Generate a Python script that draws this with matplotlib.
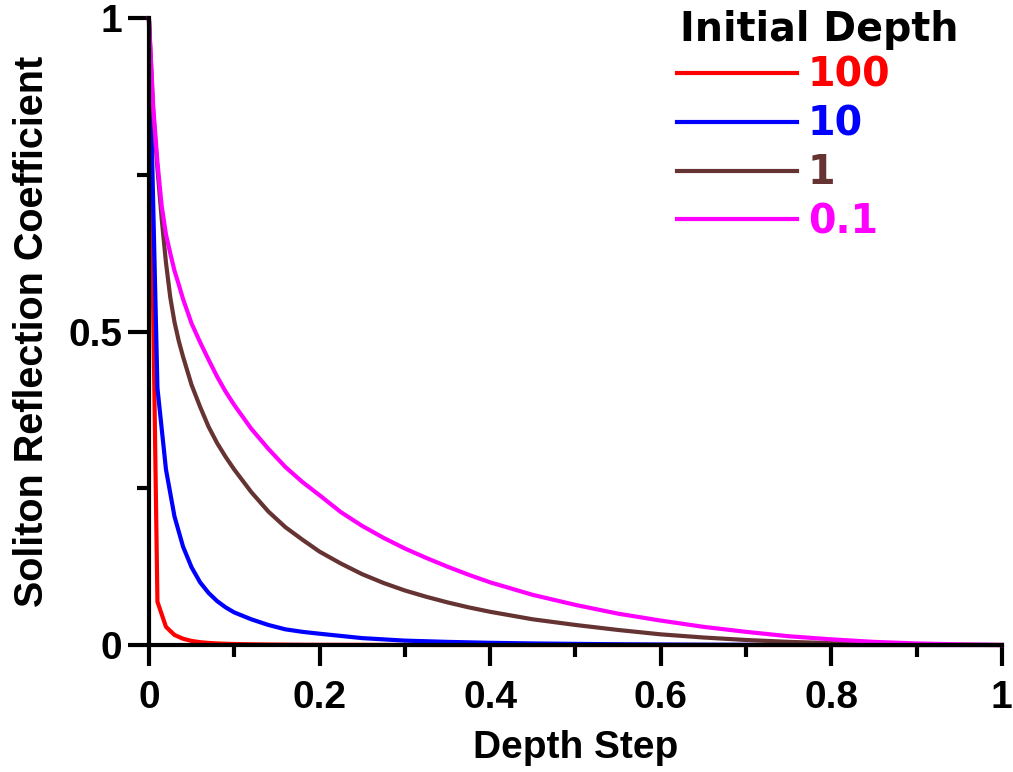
import matplotlib
matplotlib.use("Agg")
import matplotlib.pyplot as plt
from matplotlib.ticker import MultipleLocator, FixedLocator

plt.rcParams['font.family'] = ['Liberation Sans', 'DejaVu Sans']
plt.rcParams['font.weight'] = 'bold'

# Depth step grid for the deep-water runs (coarse sampling)
step_coarse = [0, 0.01, 0.02, 0.03, 0.04, 0.05, 0.06, 0.07, 0.08, 0.09, 0.1,
               0.12, 0.14, 0.16, 0.18, 0.2, 0.25, 0.3, 0.35, 0.4, 0.45,
               0.5, 0.55, 0.6, 0.65, 0.7, 0.75, 0.8, 0.85, 0.9, 0.95, 1.0]
# Depth step grid for the shallow-water runs (finer near zero)
step_fine = [0, 0.005, 0.01, 0.015, 0.02, 0.025, 0.03, 0.035, 0.04, 0.05,
             0.06, 0.07, 0.08, 0.09, 0.1, 0.12, 0.14, 0.16, 0.18, 0.2,
             0.225, 0.25, 0.275, 0.3, 0.325, 0.35, 0.375, 0.4, 0.45, 0.5,
             0.55, 0.6, 0.65, 0.7, 0.75, 0.8, 0.85, 0.9, 0.95, 1.0]

# Soliton reflection coefficient for each initial depth
refl_100 = [1.0, 0.069, 0.029, 0.016, 0.010, 0.0065, 0.0045, 0.0033, 0.0025, 0.002, 0.0016,
            0.0011, 0.0008, 0.0006, 0.0004, 0.0003, 0.0002, 0.0001, 0.0, 0.0, 0.0,
            0.0, 0.0, 0.0, 0.0, 0.0, 0.0, 0.0, 0.0, 0.0, 0.0, 0.0]
refl_10 = [1.0, 0.41, 0.28, 0.205, 0.157, 0.124, 0.10, 0.083, 0.07, 0.06, 0.052,
           0.041, 0.032, 0.025, 0.021, 0.018, 0.011, 0.007, 0.005, 0.0035, 0.0025,
           0.0018, 0.0012, 0.0008, 0.0005, 0.0003, 0.0002, 0.0001, 0.0, 0.0, 0.0, 0.0]
refl_1 = [1.0, 0.85, 0.76, 0.68, 0.61, 0.555, 0.515, 0.485, 0.46, 0.415,
          0.38, 0.348, 0.322, 0.30, 0.28, 0.244, 0.213, 0.188, 0.168, 0.149,
          0.130, 0.113, 0.099, 0.087, 0.077, 0.068, 0.060, 0.053, 0.041, 0.032,
          0.024, 0.017, 0.012, 0.008, 0.005, 0.003, 0.0015, 0.0008, 0.0003, 0.0]
refl_01 = [1.0, 0.86, 0.77, 0.70, 0.655, 0.625, 0.597, 0.575, 0.552, 0.513,
           0.483, 0.455, 0.428, 0.404, 0.383, 0.345, 0.313, 0.284, 0.260, 0.239,
           0.212, 0.190, 0.171, 0.154, 0.139, 0.125, 0.112, 0.100, 0.080, 0.064,
           0.050, 0.039, 0.029, 0.021, 0.014, 0.009, 0.005, 0.0025, 0.001, 0.0]

series_labels = ['100', '10', '1', '0.1']
series_colors = ['#FF0000', '#0000FF', '#663333', '#FF00FF']
series_x = [step_coarse, step_coarse, step_fine, step_fine]
series_values = [refl_100, refl_10, refl_1, refl_01]
legend_title = 'Initial Depth'

x_ticks = [0, 0.2, 0.4, 0.6, 0.8, 1.0]
x_tick_labels = ['0', '0.2', '0.4', '0.6', '0.8', '1']
y_ticks = [0, 0.5, 1.0]
y_tick_labels = ['0', '0.5', '1']

fig = plt.figure(figsize=(10.13, 7.72), dpi=100)
ax = fig.add_axes([0.147, 0.1645, 0.842, 0.812])

handles = []
for xs, vals, col, lab in zip(series_x, series_values, series_colors, series_labels):
    ln, = ax.plot(xs, vals, color=col, lw=3, label=lab, clip_on=False,
                  solid_joinstyle='round')
    handles.append(ln)

ax.set_xlim(0, 1)
ax.set_ylim(0, 1)

for side in ('top', 'right'):
    ax.spines[side].set_visible(False)
for side in ('left', 'bottom'):
    ax.spines[side].set_linewidth(3)

ax.xaxis.set_major_locator(FixedLocator(x_ticks))
ax.set_xticklabels(x_tick_labels)
ax.xaxis.set_minor_locator(MultipleLocator(0.1))
ax.yaxis.set_major_locator(FixedLocator(y_ticks))
ax.set_yticklabels(y_tick_labels)
ax.yaxis.set_minor_locator(MultipleLocator(0.25))

ax.tick_params(which='major', length=15, width=3, labelsize=28, direction='out')
ax.tick_params(which='minor', length=8.5, width=3, direction='out')
ax.tick_params(axis='x', which='major', pad=10)
ax.tick_params(axis='y', which='major', pad=4)
for lbl in ax.get_xticklabels() + ax.get_yticklabels():
    lbl.set_fontweight('bold')

ax.set_xlabel('Depth Step', fontsize=28, fontweight='bold')
ax.set_ylabel('Soliton Reflection Coefficient', fontsize=28.5, fontweight='bold')
ax.xaxis.set_label_coords(0.5, -0.136)
ax.yaxis.set_label_coords(-0.115, 0.5)

# Legend: heading placed as its own text, entries below it
legend_font = {'family': 'DejaVu Sans', 'size': 28.5, 'weight': 'bold'}
fig.text(0.671, 0.9865, legend_title, ha='left', va='top', **legend_font)
leg = ax.legend(handles=handles, labels=series_labels,
                frameon=False, loc='upper left', bbox_to_anchor=(0.668, 0.9275),
                bbox_transform=fig.transFigure, prop=legend_font,
                handlelength=3.03, handletextpad=0.28, labelspacing=0.22,
                borderpad=0, borderaxespad=0)
for txt, col in zip(leg.get_texts(), series_colors):
    txt.set_color(col)
for lh in leg.get_lines():
    lh.set_linewidth(3)

fig.savefig('out.png', dpi=100)
